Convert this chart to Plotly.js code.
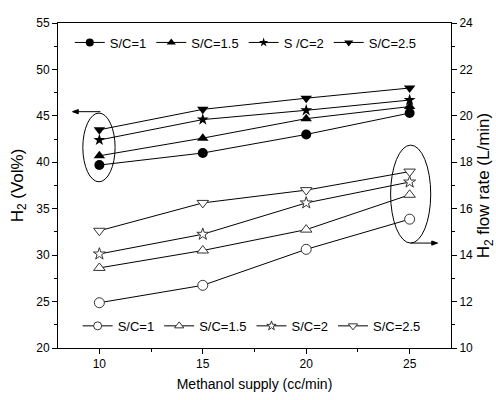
<!DOCTYPE html>
<html><head><meta charset="utf-8">
<script src="https://cdn.plot.ly/plotly-3.0.1.min.js"></script>
<style>html,body{margin:0;padding:0;background:#fff}#chart{width:496px;height:400px}</style>
</head><body><div id="chart"></div>
<script>
const methanol = [10, 15, 20, 25];
const topNames = ['S/C=1', 'S/C=1.5', 'S /C=2', 'S/C=2.5'];
const bottomNames = ['S/C=1', 'S/C=1.5', 'S/C=2', 'S/C=2.5'];
// H2 concentration (Vol%), left axis
const h2vol_sc1 = [39.7, 41.0, 43.0, 45.3];
const h2vol_sc15 = [40.7, 42.6, 44.7, 46.0];
const h2vol_sc2 = [42.4, 44.6, 45.6, 46.7];
const h2vol_sc25 = [43.5, 45.7, 46.9, 48.0];
// H2 flow rate (L/min), right axis
const h2flow_sc1 = [11.95, 12.7, 14.25, 15.55];
const h2flow_sc15 = [13.45, 14.2, 15.1, 16.6];
const h2flow_sc2 = [14.05, 14.9, 16.25, 17.15];
const h2flow_sc25 = [15.05, 16.25, 16.8, 17.6];

const font = 'Liberation Sans, Arial, sans-serif';
const symbols = ['circle', 'triangle-up', 'star', 'triangle-down'];
const plotSizes = [10, 10, 9, 10];
const legendSizes = [8, 8, 7, 8];
const volSeries = [h2vol_sc1, h2vol_sc15, h2vol_sc2, h2vol_sc25];
const flowSeries = [h2flow_sc1, h2flow_sc15, h2flow_sc2, h2flow_sc25];

const traces = [];
volSeries.forEach((ys, i) => {
  traces.push({
    x: methanol, y: ys, name: topNames[i], type: 'scatter', mode: 'lines+markers',
    line: {color: '#000', width: 1}, showlegend: false,
    marker: {symbol: symbols[i], size: plotSizes[i], color: '#000', line: {width: 0}},
    yaxis: 'y'
  });
});
flowSeries.forEach((ys, i) => {
  traces.push({
    x: methanol, y: ys, name: bottomNames[i], type: 'scatter', mode: 'lines+markers',
    line: {color: '#000', width: 1}, showlegend: false,
    marker: {symbol: symbols[i], size: plotSizes[i], color: '#fff', line: {color: '#333', width: 1}},
    yaxis: 'y2'
  });
});
// legend entries (smaller legend markers, as in the reference)
topNames.forEach((n, i) => {
  traces.push({x: [null], y: [null], name: n, type: 'scatter', mode: 'lines+markers',
    line: {color: '#000', width: 1}, marker: {symbol: symbols[i], size: legendSizes[i], color: '#000', line: {width: 0}},
    legend: 'legend', yaxis: 'y'});
});
bottomNames.forEach((n, i) => {
  traces.push({x: [null], y: [null], name: n, type: 'scatter', mode: 'lines+markers',
    line: {color: '#000', width: 1}, marker: {symbol: symbols[i], size: legendSizes[i], color: '#fff', line: {color: '#333', width: 1}},
    legend: 'legend2', yaxis: 'y2'});
});

const layout = {
  width: 496, height: 400,
  margin: {l: 58, r: 45, t: 23, b: 52},
  paper_bgcolor: '#fff', plot_bgcolor: '#fff',
  font: {family: font, size: 12, color: '#000'},
  showlegend: true,
  xaxis: {
    range: [8, 27], tick0: 10, dtick: 5, ticks: 'outside', ticklen: 5, tickwidth: 1, tickcolor: '#000',
    minor: {dtick: 2.5, tick0: 10, ticks: 'outside', ticklen: 3, tickcolor: '#000'},
    showline: true, linecolor: '#000', linewidth: 1, mirror: true, showgrid: false, zeroline: false,
    title: {text: 'Methanol supply (cc/min)', font: {size: 14}, standoff: 8}
  },
  yaxis: {
    range: [20, 55], dtick: 5, ticks: 'outside', ticklen: 5, tickcolor: '#000',
    minor: {dtick: 2.5, ticks: 'outside', ticklen: 3, tickcolor: '#000'},
    showline: true, linecolor: '#000', linewidth: 1, showgrid: false, zeroline: false,
    title: {text: 'H<sub>2</sub> (Vol%)', font: {size: 17}, standoff: 8}
  },
  yaxis2: {
    overlaying: 'y', side: 'right', range: [10, 24], dtick: 2, ticks: 'outside', ticklen: 5, tickcolor: '#000',
    minor: {dtick: 1, ticks: 'outside', ticklen: 3, tickcolor: '#000'},
    showline: true, linecolor: '#000', linewidth: 1, showgrid: false, zeroline: false,
    title: {text: 'H<sub>2</sub> flow rate (L/min)', font: {size: 17}, standoff: 6}
  },
  legend: {
    orientation: 'h', x: 0.03, y: 0.94, xanchor: 'left', yanchor: 'middle',
    bgcolor: 'rgba(0,0,0,0)', font: {size: 13}, itemwidth: 30
  },
  legend2: {
    orientation: 'h', x: 0.05, y: 0.068, xanchor: 'left', yanchor: 'middle',
    bgcolor: 'rgba(0,0,0,0)', font: {size: 13}, itemwidth: 30
  },
  shapes: [
    {type: 'circle', xref: 'x', yref: 'y', x0: 9.2, x1: 10.76, y0: 37.9, y1: 45.3, line: {color: '#000', width: 1}},
    {type: 'circle', xref: 'x', yref: 'y2', x0: 24.08, x1: 26.02, y0: 14.52, y1: 18.74, line: {color: '#000', width: 1}},
    {type: 'line', xref: 'x', yref: 'y', x0: 10.05, x1: 8.85, y0: 45.45, y1: 45.45, line: {color: '#000', width: 1}},
    {type: 'path', xref: 'x', yref: 'y', path: 'M 8.7 45.45 L 8.98 45.68 L 8.98 45.22 Z', fillcolor: '#000', line: {color: '#000', width: 1}},
    {type: 'line', xref: 'x', yref: 'y2', x0: 25.05, x1: 26.2, y0: 14.52, y1: 14.52, line: {color: '#000', width: 1}},
    {type: 'path', xref: 'x', yref: 'y2', path: 'M 26.35 14.52 L 26.07 14.61 L 26.07 14.43 Z', fillcolor: '#000', line: {color: '#000', width: 1}}
  ]
};

Plotly.newPlot('chart', traces, layout, {displayModeBar: false, staticPlot: true});
</script>
</body></html>
